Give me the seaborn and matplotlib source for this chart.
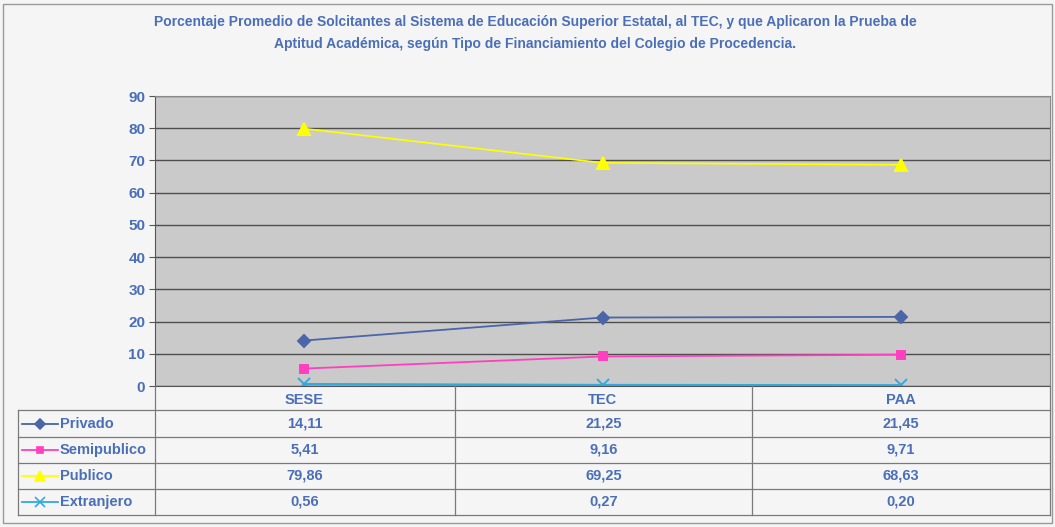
import matplotlib
matplotlib.use("Agg")
import matplotlib.pyplot as plt
import numpy as np
import pandas as pd
import seaborn as sns
from matplotlib.lines import Line2D
from matplotlib.patches import Rectangle

categories = ["SESE", "TEC", "PAA"]
series_names = ["Privado", "Semipublico", "Publico", "Extranjero"]
privado = [14.11, 21.25, 21.45]
semipublico = [5.41, 9.16, 9.71]
publico = [79.86, 69.25, 68.63]
extranjero = [0.56, 0.27, 0.20]
y_ticks = list(range(0, 100, 10))

title = ("Porcentaje Promedio de Solcitantes al Sistema de Educación Superior Estatal, al TEC, y que Aplicaron la Prueba de\n"
         "Aptitud Académica, según Tipo de Financiamiento del Colegio de Procedencia.")

colors = {"Privado": "#4a66a8", "Semipublico": "#ff3fbf",
          "Publico": "#ffff00", "Extranjero": "#33a9e0"}
markers = {"Privado": "D", "Semipublico": "s", "Publico": "^", "Extranjero": "x"}
msizes = {"Privado": 6, "Semipublico": 6, "Publico": 8, "Extranjero": 8}
widths = {"Privado": 1.3, "Semipublico": 1.3, "Publico": 1.2, "Extranjero": 1.8}
text_blue = "#4a6fb8"

values = [privado, semipublico, publico, extranjero]
df = pd.DataFrame(
    [(c, name, v) for name, vals in zip(series_names, values) for c, v in zip(categories, vals)],
    columns=["cat", "serie", "valor"],
)

W, H = 1055, 527
fig = plt.figure(figsize=(W / 100, H / 100), dpi=100)
fig.patch.set_facecolor("#f6f5f5")

# outer border
fig.add_artist(Rectangle((3 / W, 1 - 523 / H), 1049 / W, 519 / H, transform=fig.transFigure,
                         fill=False, edgecolor="#9a9a9a", lw=1.0))

left, right, top, bottom = 155, 1050, 96, 386
ax = fig.add_axes([left / W, 1 - bottom / H, (right - left) / W, (bottom - top) / H])
ax.set_facecolor("#cbcaca")

for name in series_names:
    sub = df[df["serie"] == name]
    sns.lineplot(data=sub, x="cat", y="valor", color=colors[name], marker=markers[name],
                 markersize=msizes[name], markeredgewidth=1.4, markeredgecolor=colors[name],
                 linewidth=widths[name], ax=ax, sort=False)

ax.set_xlim(-0.5, 2.5)
ax.set_ylim(0, 90)
ax.set_yticks(y_ticks)
ax.yaxis.grid(True, color="#4e4e4e", lw=1.0)
ax.set_axisbelow(True)
ax.set_xlabel("")
ax.set_ylabel("")
for s in ["top", "right"]:
    ax.spines[s].set_color("#8a8a8a")
    ax.spines[s].set_linewidth(0.8)
ax.spines["left"].set_color("#555555")
ax.spines["bottom"].set_color("#555555")
ax.tick_params(axis="y", colors="#555555", labelcolor=text_blue, labelsize=11, length=4, pad=3)
ax.tick_params(axis="x", length=0, labelcolor=text_blue, labelsize=10.5, pad=5)
for lab in ax.get_yticklabels() + ax.get_xticklabels():
    lab.set_fontweight("bold")
    lab.set_fontfamily(["Liberation Sans", "DejaVu Sans"])

# data table below the plot, drawn in pixel coordinates
tab = fig.add_axes([0, 0, 1, 1], facecolor="none")
tab.set_xlim(0, W)
tab.set_ylim(H, 0)
tab.axis("off")
row_edges = [410, 437, 463, 489, 515]
col_edges = [18, 155, 455, 752, 1050]
line_kw = dict(color="#7a7a7a", lw=0.9)
for y in row_edges:
    tab.plot([col_edges[0], col_edges[-1]], [y, y], **line_kw)
tab.plot([col_edges[0], col_edges[0]], [row_edges[0], row_edges[-1]], **line_kw)
for x in col_edges[1:]:
    tab.plot([x, x], [bottom, row_edges[-1]], **line_kw)

col_centers = [(a + b) / 2 for a, b in zip(col_edges[1:-1], col_edges[2:])]
for i, (name, vals) in enumerate(zip(series_names, values)):
    yc = (row_edges[i] + row_edges[i + 1]) / 2
    tab.add_line(Line2D([22, 58], [yc, yc], color=colors[name], lw=1.3))
    tab.plot([40], [yc], marker=markers[name], color=colors[name], markersize=msizes[name] - 1,
             markeredgecolor=colors[name], markeredgewidth=1.2)
    tab.text(60, yc, name, ha="left", va="center", color=text_blue, fontsize=10.5,
             fontweight="bold", family=["Liberation Sans", "DejaVu Sans"])
    for xc, v in zip(col_centers, vals):
        tab.text(xc, yc, f"{v:.2f}".replace(".", ","), ha="center", va="center",
                 color=text_blue, fontsize=10.5, fontweight="bold",
                 family=["Liberation Sans", "DejaVu Sans"])

fig.text(535 / W, 1 - 33 / H, title, ha="center", va="center", color=text_blue,
         fontsize=10, fontweight="bold", linespacing=1.7,
         family=["Liberation Sans Narrow", "Liberation Sans", "DejaVu Sans"])

fig.savefig("out.png", dpi=100, facecolor=fig.get_facecolor())
